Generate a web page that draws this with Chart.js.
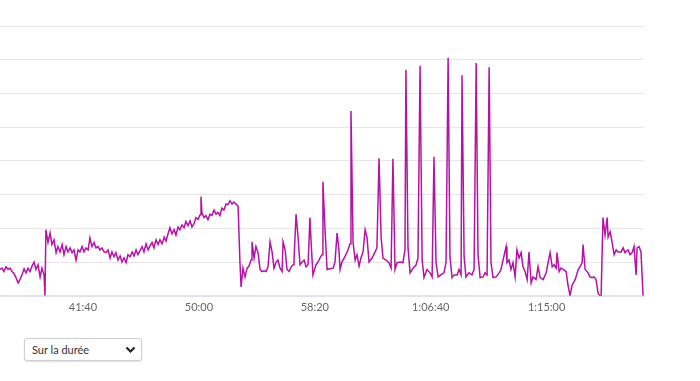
<!DOCTYPE html>
<html>
<head>
<meta charset="utf-8">
<script src="https://cdn.jsdelivr.net/npm/chart.js@4.4.1/dist/chart.umd.min.js"></script>
<style>
  html, body { margin: 0; padding: 0; background: #fff; }
  body { width: 700px; height: 381px; position: relative; overflow: hidden; font-family: Lato, "Open Sans", sans-serif; }
  #wrap { position: absolute; left: 0; top: 0; width: 700px; height: 319px; }
  #sel {
    position: absolute; left: 24px; top: 338px; width: 118px; height: 23px;
    box-sizing: border-box; border: 1px solid #cfcfcf; border-radius: 3px;
    box-shadow: 0 1px 2px rgba(0,0,0,0.12);
    font: 11px Lato, sans-serif; color: #333; padding: 0 0 0 7px;
    -webkit-appearance: none; appearance: none; outline: none;
    background: #fff url("data:image/svg+xml;utf8,<svg xmlns='http://www.w3.org/2000/svg' width='11' height='8'><path d='M1.5 1.5 L5.5 5.5 L9.5 1.5' fill='none' stroke='%23222' stroke-width='2.2'/></svg>") no-repeat right 5px center;
  }
</style>
</head>
<body>
<div id="wrap"><canvas id="c"></canvas></div>
<select id="sel"><option>Sur la durée</option></select>
<script>
// elapsed time (s)
const times = [
  2142,2151,2159,2168,2177,2185,2194,2202,2211,2220,
  2228,2237,2246,2254,2263,2271,2280,2289,2297,2306,
  2315,2323,2332,2336,2340,2349,2358,2366,2375,2384,
  2392,2401,2410,2418,2427,2435,2444,2453,2461,2470,
  2479,2487,2496,2504,2513,2522,2530,2539,2548,2556,
  2565,2573,2582,2591,2599,2608,2617,2625,2634,2642,
  2651,2660,2668,2677,2686,2694,2703,2712,2720,2729,
  2737,2746,2755,2763,2772,2781,2789,2798,2806,2815,
  2824,2832,2841,2850,2858,2867,2875,2884,2893,2901,
  2910,2918,2927,2936,2944,2953,2962,2970,2979,2987,
  2996,3005,3009,3013,3022,3030,3039,3048,3056,3065,
  3074,3082,3091,3099,3108,3117,3125,3134,3143,3151,
  3160,3169,3177,3182,3190,3199,3208,3216,3225,3229,
  3238,3246,3255,3264,3272,3281,3290,3298,3307,3316,
  3324,3333,3341,3350,3359,3363,3372,3380,3389,3398,
  3406,3410,3419,3428,3436,3445,3454,3462,3471,3479,
  3484,3492,3505,3514,3522,3531,3535,3544,3553,3566,
  3579,3587,3596,3604,3609,3617,3630,3643,3652,3656,
  3665,3674,3682,3691,3699,3708,3717,3725,3734,3747,
  3760,3768,3777,3786,3794,3807,3820,3829,3837,3846,
  3855,3868,3880,3889,3893,3902,3911,3924,3937,3945,
  3954,3963,3971,3984,3997,4006,4014,4023,4032,4044,
  4057,4066,4075,4083,4092,4101,4114,4122,4131,4135,
  4144,4152,4165,4178,4187,4196,4204,4213,4226,4234,
  4243,4252,4260,4269,4282,4295,4303,4312,4325,4329,
  4338,4346,4355,4364,4372,4381,4390,4398,4407,4416,
  4424,4433,4441,4454,4463,4472,4485,4498,4506,4515,
  4524,4532,4541,4545,4554,4562,4571,4584,4592,4601,
  4610,4623,4636,4644,4653,4657,4666,4679,4687,4696,
  4704,4713,4722,4730,4735,4743,4752,4761,4765,4774,
  4782,4791,4800,4808,4821,4830,4838,4851,4860,4869,
  4877,4886,4890,4899,4907,4916
];
// series values
const values = [
  39,41,36,43,39,41,36,33,27,19,
  24,31,40,34,41,36,44,50,39,46,
  28,41,31,0,98,79,93,76,83,64,
  73,65,76,61,73,65,71,64,68,53,
  68,65,73,65,71,68,86,73,79,71,
  73,68,71,65,64,68,56,65,58,64,
  53,59,50,56,49,61,58,65,59,68,
  61,67,73,65,77,68,74,79,71,83,
  76,83,77,87,81,92,101,92,98,90,
  102,98,105,101,110,104,111,102,107,116,
  113,120,147,123,116,119,113,121,119,127,
  121,124,119,130,127,136,135,141,136,139,
  136,133,50,13,41,28,41,44,53,80,
  56,73,64,39,36,37,36,43,80,64,
  41,50,53,41,36,80,68,39,36,43,
  46,50,121,86,46,50,53,43,46,116,
  79,31,46,50,56,61,169,98,39,40,
  41,50,93,68,39,50,58,68,77,274,
  79,53,61,44,56,65,98,87,50,56,
  65,71,204,87,56,53,49,41,203,39,
  49,50,49,68,335,71,34,41,46,56,
  341,53,27,39,34,28,206,49,28,31,
  34,49,353,58,27,31,31,39,31,327,
  58,28,34,31,39,345,61,27,28,34,
  31,339,49,27,28,34,39,53,73,49,
  53,39,49,28,68,56,64,43,36,24,
  65,19,28,24,43,27,24,34,49,64,
  43,46,41,64,36,41,39,36,16,0,
  16,24,39,43,49,76,39,34,28,27,
  28,24,4,0,0,116,90,116,87,95,
  80,61,68,65,65,71,64,68,61,64,
  73,31,71,73,65,0
];
const tickValues = [2500, 3000, 3500, 4000, 4500];
const tickLabels = ['41:40', '50:00', '58:20', '1:06:40', '1:15:00'];

const points = times.map((t, i) => ({ x: t, y: values[i] }));

new Chart(document.getElementById('c'), {
  type: 'line',
  data: {
    datasets: [{
      data: points,
      borderColor: '#b414a6',
      borderWidth: 1.5,
      pointRadius: 0,
      tension: 0,
      fill: false
    }]
  },
  options: {
    responsive: true,
    maintainAspectRatio: false,
    animation: false,
    layout: { padding: { top: 26, right: 56, left: 0, bottom: 0 } },
    plugins: { legend: { display: false }, tooltip: { enabled: false } },
    scales: {
      x: {
        type: 'linear',
        min: 2142,
        max: 4920,
        afterBuildTicks: (scale) => { scale.ticks = tickValues.map(v => ({ value: v })); },
        ticks: {
          autoSkip: false,
          maxRotation: 0,
          padding: 5,
          color: '#666',
          font: { family: 'Lato', size: 11 },
          callback: (v) => { const i = tickValues.indexOf(v); return i >= 0 ? tickLabels[i] : ''; }
        },
        grid: { display: false, drawTicks: false },
        border: { display: true, color: '#dfe3ef', width: 2 }
      },
      y: {
        min: 0,
        max: 400,
        ticks: { display: false, stepSize: 50 },
        grid: {
          drawTicks: false,
          color: (ctx) => (ctx.tick && ctx.tick.value === 0) ? 'rgba(0,0,0,0)' : '#e6e6e6',
          lineWidth: 1
        },
        border: { display: false }
      }
    }
  }
});
</script>
</body>
</html>
